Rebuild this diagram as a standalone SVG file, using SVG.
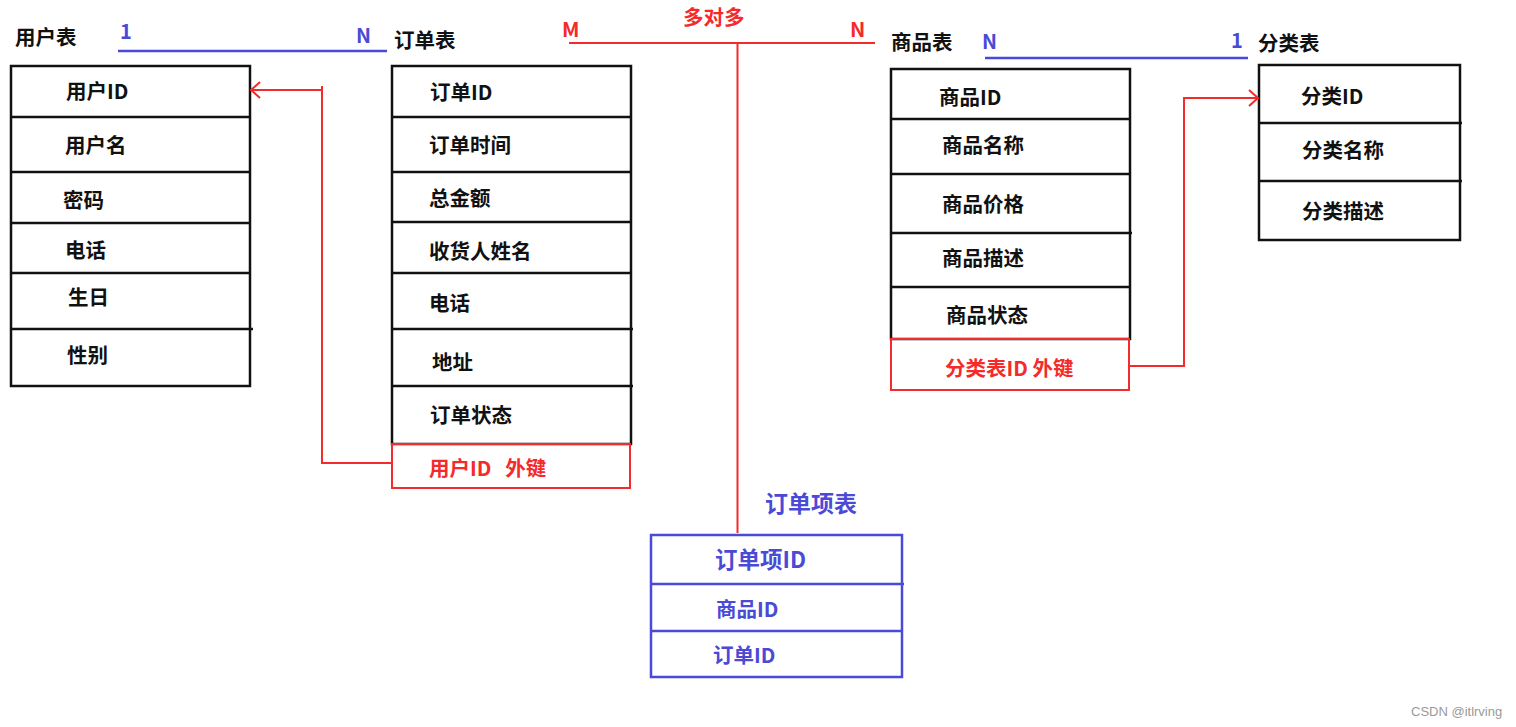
<svg xmlns="http://www.w3.org/2000/svg" width="1516" height="727" viewBox="0 0 1516 727">
<style>
text{font-family:"Noto Sans CJK SC","Liberation Sans",sans-serif;font-weight:bold;dominant-baseline:central}
.t{font-size:20.5px;fill:#111}
.k{fill:none;stroke:#111;stroke-width:2.5}
.r{fill:none;stroke:#f52a2a;stroke-width:2}
.rt{font-size:20.5px;fill:#f52a2a}
.b{fill:none;stroke:#4a4ad6;stroke-width:2.5}
.bt{fill:#4a4ad6}
</style>
<rect width="1516" height="727" fill="#fff"/>

<g id="user-table">
<text class="t" x="15" y="36">用户表</text>
<rect class="k" x="11" y="66" width="239" height="320"/>
<line class="k" x1="11" y1="117" x2="250" y2="117"/>
<line class="k" x1="11" y1="172" x2="250" y2="172"/>
<line class="k" x1="11" y1="223" x2="250" y2="223"/>
<line class="k" x1="11" y1="273" x2="250" y2="273"/>
<line class="k" x1="11" y1="329" x2="253" y2="329"/>
<text class="t" x="66" y="90">用户ID</text>
<text class="t" x="65" y="144">用户名</text>
<text class="t" x="63" y="199">密码</text>
<text class="t" x="65" y="249">电话</text>
<text class="t" x="68" y="296">生日</text>
<text class="t" x="67" y="354">性别</text>
</g>

<g id="order-table">
<text class="t" x="394" y="39">订单表</text>
<rect class="k" x="392" y="66" width="239" height="378"/>
<line class="k" x1="392" y1="117" x2="631" y2="117"/>
<line class="k" x1="392" y1="172" x2="631" y2="172"/>
<line class="k" x1="392" y1="222" x2="632" y2="222"/>
<line class="k" x1="392" y1="273" x2="631" y2="273"/>
<line class="k" x1="392" y1="329" x2="633" y2="329"/>
<line class="k" x1="392" y1="386" x2="633" y2="386"/>
<text class="t" x="430" y="91">订单ID</text>
<text class="t" x="429" y="144">订单时间</text>
<text class="t" x="429" y="197">总金额</text>
<text class="t" x="429" y="250">收货人姓名</text>
<text class="t" x="429" y="302">电话</text>
<text class="t" x="432" y="361">地址</text>
<text class="t" x="430" y="414">订单状态</text>
<rect class="r" x="392" y="444" width="238" height="44" stroke-width="2.5"/>
<text class="rt" x="429" y="467" xml:space="preserve">用户ID   外键</text>
</g>

<g id="product-table">
<text class="t" x="891" y="41">商品表</text>
<rect class="k" x="891" y="69" width="239" height="270"/>
<line class="k" x1="891" y1="119" x2="1130" y2="119"/>
<line class="k" x1="891" y1="174" x2="1130" y2="174"/>
<line class="k" x1="891" y1="233" x2="1132" y2="233"/>
<line class="k" x1="891" y1="287" x2="1131" y2="287"/>
<text class="t" x="939" y="96">商品ID</text>
<text class="t" x="942" y="144">商品名称</text>
<text class="t" x="942" y="203">商品价格</text>
<text class="t" x="942" y="257">商品描述</text>
<text class="t" x="946" y="314">商品状态</text>
<rect class="r" x="891" y="339" width="238" height="51" stroke-width="2.5"/>
<text class="rt" x="945" y="367">分类表ID 外键</text>
</g>

<g id="category-table">
<text class="t" x="1258" y="42">分类表</text>
<rect class="k" x="1259" y="65" width="201" height="175"/>
<line class="k" x1="1259" y1="123" x2="1462" y2="123"/>
<line class="k" x1="1259" y1="181" x2="1462" y2="181"/>
<text class="t" x="1301" y="95">分类ID</text>
<text class="t" x="1302" y="149">分类名称</text>
<text class="t" x="1302" y="210">分类描述</text>
</g>

<g id="order-item-table">
<text class="bt" x="765" y="502" font-size="23">订单项表</text>
<rect class="b" x="651" y="535" width="251" height="142"/>
<line class="b" x1="651" y1="584" x2="904" y2="584"/>
<line class="b" x1="651" y1="631" x2="902" y2="631"/>
<text class="bt" x="715" y="558" font-size="22.5">订单项ID</text>
<text class="bt" x="716" y="608" font-size="20.5">商品ID</text>
<text class="bt" x="713" y="654" font-size="20.5">订单ID</text>
</g>

<g id="connectors">
<line class="b" x1="118" y1="51" x2="387" y2="51"/>
<text class="bt" x="120" y="30" font-size="20">1</text>
<text class="bt" x="356" y="34" font-size="20">N</text>

<line class="b" x1="985" y1="58" x2="1248" y2="58"/>
<text class="bt" x="982" y="40" font-size="20">N</text>
<text class="bt" x="1231" y="39" font-size="20">1</text>

<line class="r" x1="569" y1="43" x2="875" y2="43" stroke-width="2.5"/>
<line class="r" x1="737.5" y1="43" x2="737.5" y2="533" stroke-width="2.5"/>
<text class="rt" x="562" y="28">M</text>
<text class="rt" x="683" y="16" font-size="19.5">多对多</text>
<text class="rt" x="850" y="28">N</text>

<polyline class="r" points="392,463 322,463 322,90 251,90"/>
<line class="r" x1="322" y1="86" x2="322" y2="94"/>
<polyline class="r" points="260,82 251,90 260,98"/>

<polyline class="r" points="1130,366 1184,366 1184,98 1258,98"/>
<polyline class="r" points="1249,90 1258,98 1249,106"/>
</g>

<text x="1411" y="711" font-size="13" fill="#999" style="font-weight:normal;font-family:'Liberation Sans',sans-serif">CSDN @itlrving</text>
</svg>
